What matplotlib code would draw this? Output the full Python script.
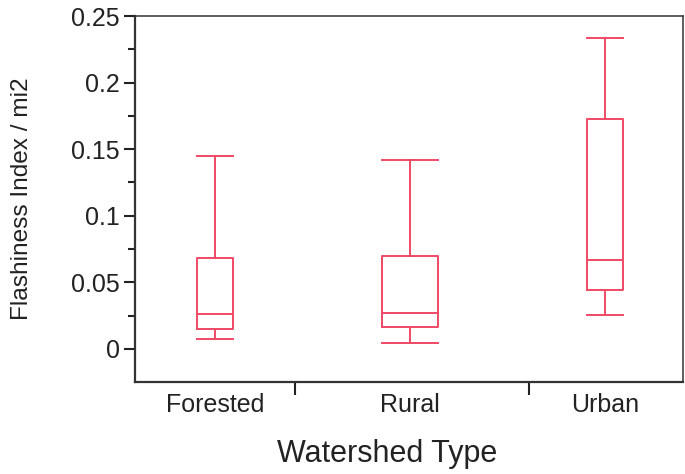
import matplotlib
matplotlib.use('agg')
import matplotlib.pyplot as plt

# values
categories = ['Forested', 'Rural', 'Urban']
whisker_low = [0.0074, 0.0044, 0.0254]
q1 = [0.0149, 0.0164, 0.0441]
median = [0.0261, 0.0269, 0.0667]
q3 = [0.0682, 0.0698, 0.1725]
whisker_high = [0.1447, 0.1417, 0.2333]
box_widths = [0.185, 0.29, 0.185]
band_edges = [0.41, 1.61]
yticks = [0, 0.05, 0.1, 0.15, 0.2, 0.25]
ytick_labels = ['0', '0.05', '0.1', '0.15', '0.2', '0.25']

plt.rcParams['font.family'] = ['Liberation Sans', 'DejaVu Sans']
red = '#f04a64'
ink = '#222222'

fig = plt.figure(figsize=(6.85, 4.74), dpi=100)
ax = fig.add_axes([0.197, 0.194, 0.8, 0.772])

stats = []
for i in range(len(categories)):
    stats.append({'whislo': whisker_low[i], 'q1': q1[i], 'med': median[i],
                  'q3': q3[i], 'whishi': whisker_high[i], 'fliers': []})

pos = list(range(len(categories)))
props = dict(color=red, linewidth=1.4)
ax.bxp(stats, positions=pos, widths=box_widths, capwidths=box_widths,
       showfliers=False, boxprops=props, whiskerprops=props,
       capprops=props, medianprops=props)

ax.set_xlim(-0.41, 2.40)
ax.set_ylim(-0.025, 0.25)

ax.set_yticks(yticks, ytick_labels)
ax.set_yticks([0.025, 0.075, 0.125, 0.175, 0.225], minor=True)
ax.set_xticks(pos, categories)
ax.set_xticks(band_edges, minor=True)

ax.tick_params(axis='y', which='major', length=8, width=1.5, pad=3,
               labelsize=18, colors=ink)
ax.tick_params(axis='y', which='minor', length=5, width=1.5, colors=ink)
ax.tick_params(axis='x', which='major', length=0, pad=8,
               labelsize=18, colors=ink)
ax.tick_params(axis='x', which='minor', length=9, width=1.5, colors=ink)

for s in ['left', 'bottom']:
    ax.spines[s].set_linewidth(1.6)
    ax.spines[s].set_color('#333333')
for s in ['top', 'right']:
    ax.spines[s].set_linewidth(1.1)
    ax.spines[s].set_color('#333333')

ax.set_ylabel('Flashiness Index / mi2', fontsize=17.6, color=ink)
ax.yaxis.set_label_coords(-0.186, 0.5)
ax.set_xlabel('Watershed Type', fontsize=22, color=ink)
ax.xaxis.set_label_coords(0.46, -0.155)

plt.savefig('out.png')
